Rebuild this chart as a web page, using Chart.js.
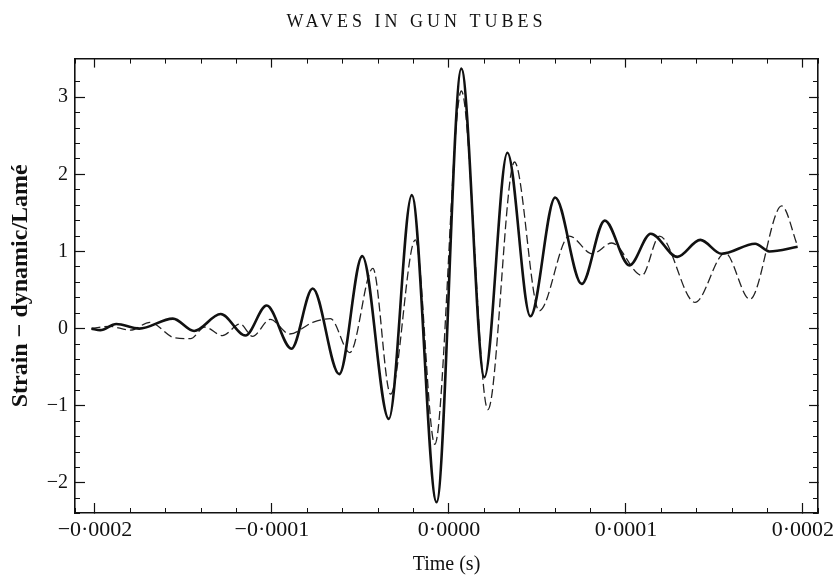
<!DOCTYPE html>
<html>
<head>
<meta charset="utf-8">
<script src="https://cdn.jsdelivr.net/npm/chart.js@4.4.1/dist/chart.umd.min.js"></script>
<style>
  html, body { margin: 0; padding: 0; background: #ffffff; }
  #wrap { width: 833px; height: 581px; }
</style>
</head>
<body>
<div id="wrap"><canvas id="c" width="833" height="581"></canvas></div>
<script>
// ---- Data ----
const chartTitle = 'WAVES IN GUN TUBES';
const xTitle = 'Time (s)';
const yTitle = 'Strain − dynamic/Lamé';

// Solid curve: time (s) and strain
const solidTime = [-202e-6, -197e-6, -188e-6, -175e-6, -156e-6, -144e-6, -129e-6, -115e-6, -103e-6, -89e-6,
  -77e-6, -62e-6, -49e-6, -34e-6, -21e-6, -7e-6, 7e-6, 20e-6, 33e-6, 46e-6,
  60e-6, 75e-6, 88e-6, 102e-6, 114e-6, 129e-6, 142e-6, 154e-6, 173e-6, 181e-6, 197e-6];
const solidStrain = [0.0, -0.02, 0.06, 0.0, 0.13, -0.03, 0.19, -0.09, 0.30, -0.26,
  0.52, -0.59, 0.94, -1.17, 1.73, -2.25, 3.37, -0.63, 2.28, 0.16,
  1.70, 0.58, 1.40, 0.82, 1.23, 0.93, 1.15, 0.97, 1.10, 1.00, 1.06];

// Dashed curve: time (s) and strain
const dashedTime = [-202e-6, -192e-6, -180e-6, -169e-6, -155e-6, -146e-6, -138e-6, -128e-6, -118e-6, -111e-6,
  -101e-6, -90e-6, -77e-6, -67e-6, -56e-6, -43e-6, -33e-6, -19e-6, -8e-6, 7e-6,
  22e-6, 37e-6, 51e-6, 68e-6, 81e-6, 92e-6, 109e-6, 119e-6, 139e-6, 156e-6,
  170e-6, 188e-6, 197e-6];
const dashedStrain = [0.0, 0.03, -0.02, 0.08, -0.12, -0.13, 0.02, -0.09, 0.06, -0.10,
  0.12, -0.07, 0.08, 0.13, -0.31, 0.78, -0.85, 1.15, -1.50, 3.08,
  -1.05, 2.16, 0.23, 1.20, 0.97, 1.11, 0.69, 1.20, 0.34, 0.98,
  0.38, 1.59, 1.07];

// Tick labels / positions
const xTicks = [-0.0002, -0.0001, 0, 0.0001, 0.0002];
const yTicks = [-2, -1, 0, 1, 2, 3];

// ---- Helpers ----
const pts = (xs, ys) => xs.map((x, i) => ({ x: x, y: ys[i] }));
const fmtX = v => {
  const n = Math.round(v * 1e4);
  if (n === 0) return '0·0000';
  return (n < 0 ? '−' : '') + '0·000' + Math.abs(n);
};
const fmtY = v => (v < 0 ? '−' + Math.abs(v) : String(v));

const X_MIN = -0.0002113, X_MAX = 0.0002085;
const Y_MIN = -2.39, Y_MAX = 3.5;
const SERIF = "'Liberation Serif', 'DejaVu Serif', serif";
const INK = '#111111';

function sideAxis(axis, position, opts) {
  const horiz = axis === 'x';
  return Object.assign({
    type: 'linear',
    axis: axis,
    position: position,
    min: horiz ? X_MIN : Y_MIN,
    max: horiz ? X_MAX : Y_MAX,
    weight: 0,
    grid: { drawOnChartArea: false, drawTicks: true, tickLength: -5, tickColor: INK, tickWidth: 1 },
    border: { display: false },
    ticks: { display: false },
    afterFit: s => {
      if (horiz) s.height = 0; else s.width = 0;
      s.paddingLeft = 0; s.paddingRight = 0; s.paddingTop = 0; s.paddingBottom = 0;
    }
  }, opts);
}

// letter-spaced running-head title (wraps the Chart.js title block's own draw)
const spacedTitle = {
  id: 'spacedTitle',
  afterInit(chart) {
    const tb = chart.titleBlock;
    if (!tb || tb._spaced) return;
    const orig = tb.draw.bind(tb);
    tb.draw = function () {
      const ctx = chart.ctx;
      const prev = ctx.letterSpacing;
      ctx.letterSpacing = '4px';
      orig();
      ctx.letterSpacing = prev || '0px';
    };
    tb._spaced = true;
  }
};

const cfg = {
  type: 'line',
  data: {
    datasets: [
      {
        label: 'solid',
        data: pts(solidTime, solidStrain),
        borderColor: INK,
        borderWidth: 2.6,
        pointRadius: 0,
        fill: false,
        cubicInterpolationMode: 'monotone',
        xAxisID: 'x', yAxisID: 'y'
      },
      {
        label: 'dashed',
        data: pts(dashedTime, dashedStrain),
        borderColor: '#222222',
        borderWidth: 1.3,
        borderDash: [9, 4],
        pointRadius: 0,
        fill: false,
        cubicInterpolationMode: 'monotone',
        xAxisID: 'x', yAxisID: 'y'
      }
    ]
  },
  plugins: [spacedTitle],
  options: {
    responsive: false,
    devicePixelRatio: 1,
    animation: false,
    events: [],
    layout: { padding: 0 },
    plugins: {
      legend: { display: false },
      tooltip: { enabled: false },
      title: {
        display: true,
        text: chartTitle,
        color: INK,
        font: { family: SERIF, size: 18, weight: 'normal' },
        padding: { top: 11, bottom: 26 }
      }
    },
    scales: {
      x: {
        type: 'linear',
        position: 'bottom',
        min: X_MIN, max: X_MAX,
        weight: 1,
        afterBuildTicks: s => { s.ticks = xTicks.map(v => ({ value: v })); },
        afterFit: s => { s.height = 68; s.paddingLeft = 0; s.paddingRight = 0; },
        grid: { drawOnChartArea: false, drawTicks: true, tickLength: -10, tickColor: INK, tickWidth: 1.2 },
        border: { display: true, color: INK, width: 1.6 },
        ticks: {
          color: INK, font: { family: SERIF, size: 22 }, padding: 14,
          maxRotation: 0, autoSkip: false, callback: fmtX
        },
        title: {
          display: true, text: xTitle, color: INK,
          font: { family: SERIF, size: 20 }, padding: { top: 6, bottom: 4 }
        }
      },
      xMinor: sideAxis('x', 'bottom', { ticks: { display: false, stepSize: 0.00002 } }),
      xTop: sideAxis('x', 'top', {
        weight: 1,
        afterBuildTicks: s => { s.ticks = xTicks.map(v => ({ value: v })); },
        grid: { drawOnChartArea: false, drawTicks: true, tickLength: -9, tickColor: INK, tickWidth: 1.2 },
        border: { display: true, color: INK, width: 1.6 }
      }),
      xTopMinor: sideAxis('x', 'top', { ticks: { display: false, stepSize: 0.00002 } }),
      y: {
        type: 'linear',
        position: 'left',
        min: Y_MIN, max: Y_MAX,
        weight: 1,
        afterBuildTicks: s => { s.ticks = yTicks.map(v => ({ value: v })); },
        afterFit: s => { s.width = 75; s.paddingTop = 0; s.paddingBottom = 0; },
        grid: { drawOnChartArea: false, drawTicks: true, tickLength: -10, tickColor: INK, tickWidth: 1.2 },
        border: { display: true, color: INK, width: 1.6 },
        ticks: {
          color: INK, font: { family: SERIF, size: 20 }, padding: 17,
          autoSkip: false, callback: fmtY
        },
        title: {
          display: true, text: yTitle, color: INK,
          font: { family: SERIF, size: 24, weight: 'bold' }, padding: { top: 6, bottom: 0 }
        }
      },
      yMinor: sideAxis('y', 'left', { ticks: { display: false, stepSize: 0.2 } }),
      yRight: sideAxis('y', 'right', {
        weight: 1,
        afterBuildTicks: s => { s.ticks = yTicks.map(v => ({ value: v })); },
        afterFit: s => { s.width = 15; s.paddingTop = 0; s.paddingBottom = 0; },
        grid: { drawOnChartArea: false, drawTicks: true, tickLength: -9, tickColor: INK, tickWidth: 1.2 },
        border: { display: true, color: INK, width: 1.6 }
      }),
      yRightMinor: sideAxis('y', 'right', { ticks: { display: false, stepSize: 0.2 } })
    }
  }
};

new Chart(document.getElementById('c'), cfg);
</script>
</body>
</html>
